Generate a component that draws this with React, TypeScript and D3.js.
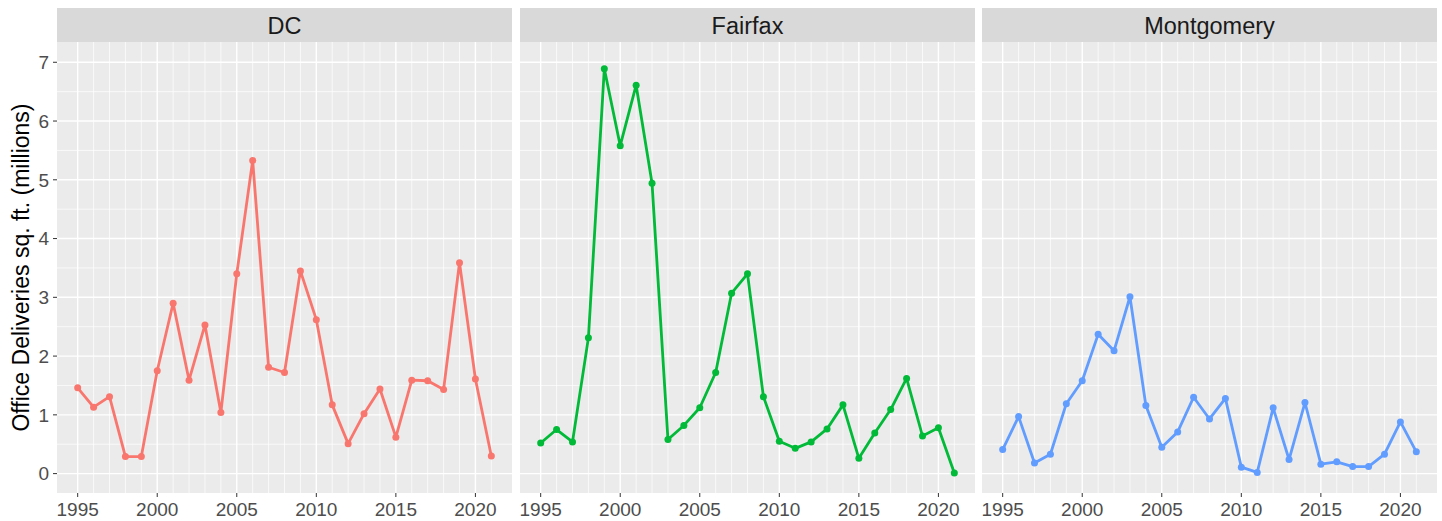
import React from "react";
import * as d3 from "d3";

const years = d3.range(1995, 2022);

const counties = ["DC", "Fairfax", "Montgomery"];
const colors = ["#F8766D", "#00BA38", "#619CFF"];

const dcValues = [1.46, 1.13, 1.31, 0.29, 0.29, 1.75, 2.90, 1.59, 2.53, 1.04, 3.40, 5.33, 1.81, 1.72,
  3.45, 2.62, 1.17, 0.51, 1.02, 1.44, 0.62, 1.59, 1.58, 1.43, 3.59, 1.61, 0.30];
const fairfaxValues = [0.52, 0.75, 0.54, 2.31, 6.89, 5.58, 6.61, 4.94, 0.58, 0.82, 1.12, 1.72, 3.07, 3.40,
  1.31, 0.55, 0.43, 0.54, 0.76, 1.17, 0.26, 0.69, 1.09, 1.62, 0.64, 0.78, 0.01];
const montgomeryValues = [0.41, 0.97, 0.18, 0.33, 1.19, 1.58, 2.37, 2.09, 3.01, 1.16, 0.45, 0.71, 1.30, 0.93,
  1.28, 0.11, 0.02, 1.12, 0.24, 1.21, 0.16, 0.20, 0.12, 0.12, 0.33, 0.88, 0.37];

const seriesValues = [dcValues, fairfaxValues, montgomeryValues];

const xTicks = [1995, 2000, 2005, 2010, 2015, 2020];
const yTicks = [0, 1, 2, 3, 4, 5, 6, 7];
const yMinor = [0.5, 1.5, 2.5, 3.5, 4.5, 5.5, 6.5];

const width = 1442, height = 521;
const panelLefts = [57, 520, 982];
const panelW = 455;
const stripTop = 8, panelTop = 42, panelBottom = 493;

export default function App() {
  const y = d3.scaleLinear().domain([-0.33, 7.345]).range([panelBottom, panelTop]);
  const font = "'Liberation Sans', Arial, sans-serif";

  return (
    <svg width={width} height={height} style={{position: "absolute", left: 0, top: 0}}>
      <rect width={width} height={height} fill="#fff" />
      {counties.map((name, i) => {
        const left = panelLefts[i];
        const x = d3.scaleLinear().domain([1993.7, 2022.3]).range([left, left + panelW]);
        const data = years.map((yr, j) => ({yr, v: seriesValues[i][j]}));
        const line = d3.line<{yr: number, v: number}>().x(d => x(d.yr)).y(d => y(d.v));
        return (
          <g key={name}>
            <rect x={left} y={stripTop} width={panelW} height={panelTop - stripTop} fill="#d9d9d9" />
            <text x={left + panelW / 2} y={33.5} textAnchor="middle" fontSize={23.5}
                  fontFamily={font} fill="#1a1a1a">{name}</text>
            <rect x={left} y={panelTop} width={panelW} height={panelBottom - panelTop} fill="#ebebeb" />
            {yMinor.map(t => (
              <line key={"ym" + t} x1={left} x2={left + panelW} y1={y(t)} y2={y(t)}
                    stroke="#fff" strokeWidth={0.7} />
            ))}
            {years.filter(yr => !xTicks.includes(yr)).map(yr => (
              <line key={"xm" + yr} x1={x(yr)} x2={x(yr)} y1={panelTop} y2={panelBottom}
                    stroke="#fff" strokeWidth={0.7} />
            ))}
            {yTicks.map(t => (
              <line key={"y" + t} x1={left} x2={left + panelW} y1={y(t)} y2={y(t)}
                    stroke="#fff" strokeWidth={1.4} />
            ))}
            {xTicks.map(t => (
              <g key={"x" + t}>
                <line x1={x(t)} x2={x(t)} y1={panelTop} y2={panelBottom} stroke="#fff" strokeWidth={1.4} />
                <line x1={x(t)} x2={x(t)} y1={panelBottom} y2={panelBottom + 4} stroke="#333" strokeWidth={1} />
                <text x={x(t)} y={515.5} textAnchor="middle" fontSize={19} fontFamily={font}
                      fill="#4d4d4d">{t}</text>
              </g>
            ))}
            <path d={line(data) || ""} fill="none" stroke={colors[i]} strokeWidth={2.8}
                  strokeLinejoin="round" />
            {data.map(d => (
              <circle key={d.yr} cx={x(d.yr)} cy={y(d.v)} r={3.5} fill={colors[i]} />
            ))}
          </g>
        );
      })}
      {yTicks.map(t => (
        <g key={"yl" + t}>
          <line x1={53} x2={57} y1={y(t)} y2={y(t)} stroke="#333" strokeWidth={1} />
          <text x={49} y={y(t)} dy="0.36em" textAnchor="end" fontSize={19} fontFamily={font}
                fill="#4d4d4d">{t}</text>
        </g>
      ))}
      <text transform={`translate(29, ${(panelTop + panelBottom) / 2}) rotate(-90)`} textAnchor="middle"
            fontSize={23} fontFamily={font} fill="#000">Office Deliveries sq. ft. (millions)</text>
    </svg>
  );
}
